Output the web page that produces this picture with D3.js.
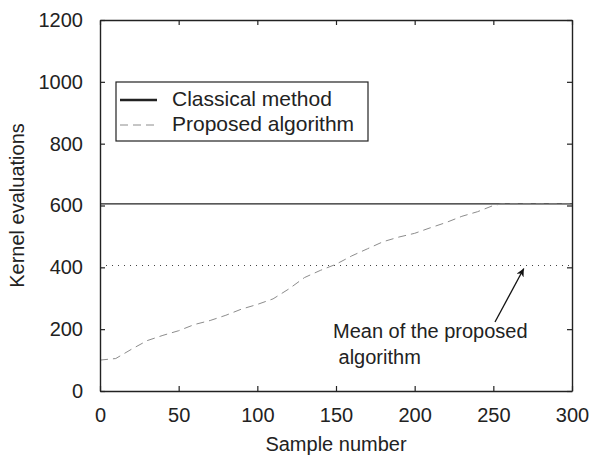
<!DOCTYPE html>
<html>
<head>
<meta charset="utf-8">
<script src="https://cdn.jsdelivr.net/npm/d3@7"></script>
<style>
  body { margin: 0; background: #fff; }
  text { font-family: "Liberation Sans", Arial, sans-serif; fill: #222; }
</style>
</head>
<body>
<div id="chart"></div>
<script>
// values
var sampleNumber = [0, 10, 20, 30, 40, 50, 60, 70, 80, 90, 100, 110, 120, 130, 140, 150,
                    160, 170, 180, 190, 200, 210, 220, 230, 240, 250, 255, 260, 280, 300];
var proposedEvals = [100, 105, 135, 163, 180, 195, 215, 228, 245, 265, 280, 298, 330, 367, 390, 410,
                     437, 460, 483, 498, 510, 528, 545, 565, 580, 600, 605, 605, 605, 605];
var classicalEvals = 605;
var meanEvals = 406;
var xTicks = [0, 50, 100, 150, 200, 250, 300];
var yTicks = [0, 200, 400, 600, 800, 1000, 1200];
var legendNames = ["Classical method", "Proposed algorithm"];
var noteLines = ["Mean of the proposed", " algorithm"];
var notePoint = [270, meanEvals];

var W = 590, H = 459,
    m = {top: 20, right: 18, bottom: 68, left: 100},
    w = W - m.left - m.right,
    h = H - m.top - m.bottom;

var x = d3.scaleLinear().domain([0, 300]).range([0, w]);
var y = d3.scaleLinear().domain([0, 1200]).range([h, 0]);

var svg = d3.select("#chart").append("svg")
    .attr("width", W)
    .attr("height", H);

var defs = svg.append("defs");
defs.append("marker")
    .attr("id", "arrow")
    .attr("viewBox", "0 0 10 10")
    .attr("refX", 10).attr("refY", 5)
    .attr("markerWidth", 11).attr("markerHeight", 8)
    .attr("markerUnits", "userSpaceOnUse")
    .attr("orient", "auto")
    .append("path")
    .attr("d", "M0,0 L10,5 L0,10 L3,5 Z")
    .attr("fill", "#111");

var g = svg.append("g")
    .attr("transform", "translate(" + m.left + "," + m.top + ")");

// reference lines
g.append("line")
    .attr("x1", 0).attr("x2", w)
    .attr("y1", y(classicalEvals)).attr("y2", y(classicalEvals))
    .attr("stroke", "#222").attr("stroke-width", 1.2);

g.append("line")
    .attr("x1", 0).attr("x2", w)
    .attr("y1", y(meanEvals)).attr("y2", y(meanEvals))
    .attr("stroke", "#444").attr("stroke-width", 1.1)
    .attr("stroke-dasharray", "1,5");

// proposed algorithm curve
var line = d3.line()
    .x(function(d, i) { return x(sampleNumber[i]); })
    .y(function(d) { return y(d); });

g.append("path")
    .datum(proposedEvals)
    .attr("d", line)
    .attr("fill", "none")
    .attr("stroke", "#8c8c8c")
    .attr("stroke-width", 1)
    .attr("stroke-dasharray", "8,5");

// axes, MATLAB style box with inside ticks
var tk = 5, fmt = d3.format("d");
g.append("g")
    .attr("transform", "translate(0," + h + ")")
    .call(d3.axisBottom(x).tickValues(xTicks).tickFormat(fmt).tickSizeInner(-tk).tickSizeOuter(0).tickPadding(17));
g.append("g")
    .call(d3.axisTop(x).tickValues(xTicks).tickSizeInner(-tk).tickSizeOuter(0).tickFormat(""));
g.append("g")
    .call(d3.axisLeft(y).tickValues(yTicks).tickFormat(fmt).tickSizeInner(-tk).tickSizeOuter(0).tickPadding(17));
g.append("g")
    .attr("transform", "translate(" + w + ",0)")
    .call(d3.axisRight(y).tickValues(yTicks).tickSizeInner(-tk).tickSizeOuter(0).tickFormat(""));

g.selectAll(".domain").attr("stroke", "#222").attr("stroke-width", 1.4);
g.selectAll(".tick line").attr("stroke", "#222").attr("stroke-width", 1.2);
g.selectAll(".tick text")
    .attr("fill", "#222")
    .attr("font-size", 20)
    .attr("font-family", "Liberation Sans, Arial, sans-serif");

// axis titles
svg.append("text")
    .attr("x", m.left + w / 2).attr("y", 451)
    .attr("text-anchor", "middle").attr("font-size", 20)
    .text("Sample number");
svg.append("text")
    .attr("transform", "translate(24," + (m.top + h / 2) + ") rotate(-90)")
    .attr("text-anchor", "middle").attr("font-size", 20)
    .text("Kernel evaluations");

// legend
var lg = svg.append("g").attr("transform", "translate(116,82)");
lg.append("rect")
    .attr("width", 252).attr("height", 59)
    .attr("fill", "#fff").attr("stroke", "#222").attr("stroke-width", 1.2);
var items = lg.selectAll(".item").data(legendNames).enter().append("g")
    .attr("transform", function(d, i) { return "translate(0," + (18 + i * 25) + ")"; });
items.append("line")
    .attr("x1", 4).attr("x2", 41).attr("y1", 0).attr("y2", 0)
    .attr("stroke", function(d, i) { return i === 0 ? "#222" : "#8c8c8c"; })
    .attr("stroke-width", function(d, i) { return i === 0 ? 2.4 : 1; })
    .attr("stroke-dasharray", function(d, i) { return i === 0 ? null : "8,5"; });
items.append("text")
    .attr("x", 56).attr("y", 6)
    .attr("font-size", 21)
    .text(function(d) { return d; });

// annotation
g.append("line")
    .attr("x1", 395).attr("y1", 302)
    .attr("x2", x(notePoint[0]) - 1).attr("y2", y(notePoint[1]) + 3)
    .attr("stroke", "#111").attr("stroke-width", 1.3)
    .attr("marker-end", "url(#arrow)");
g.selectAll(".note").data(noteLines).enter().append("text")
    .attr("x", 233)
    .attr("y", function(d, i) { return 318 + i * 26; })
    .attr("font-size", 20)
    .attr("xml:space", "preserve")
    .text(function(d) { return d; });
</script>
</body>
</html>
